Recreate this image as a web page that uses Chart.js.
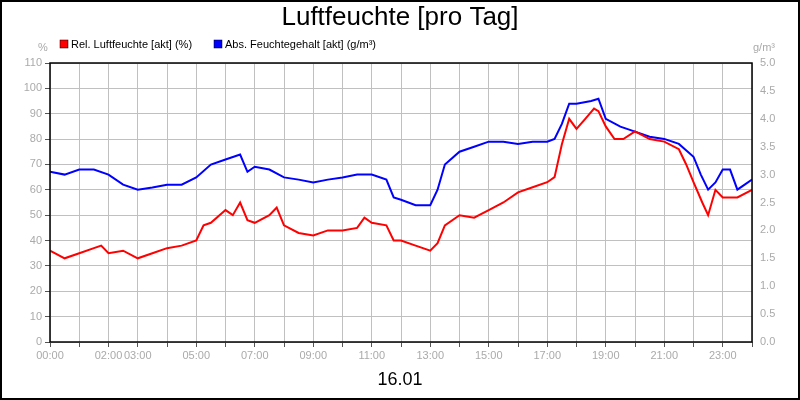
<!DOCTYPE html>
<html><head><meta charset="utf-8">
<script src="https://cdn.jsdelivr.net/npm/chart.js@4"></script>
<style>html,body{margin:0;padding:0;background:#fff}#w{width:800px;height:400px}</style>
</head><body><div id="w"><canvas id="c"></canvas></div>
<script>
const relHours = [0,0.5,1,1.5,1.75,2,2.5,3,3.5,4,4.5,5,5.25,5.5,6,6.25,6.5,6.75,7,7.5,7.75,8,8.5,9,9.5,10,10.5,10.75,11,11.5,11.75,12,12.5,13,13.25,13.5,14,14.5,15,15.5,16,16.5,17,17.25,17.5,17.75,18,18.3,18.6,18.75,19,19.3,19.6,20,20.5,21,21.5,21.75,22,22.3,22.5,22.75,23,23.5,24];
const relValues = [36,33,35,37,38,35,36,33,35,37,38,40,46,47,52,50,55,48,47,50,53,46,43,42,44,44,45,49,47,46,40,40,38,36,39,46,50,49,52,55,59,61,63,65,78,88,84,88,92,91,85,80,80,83,80,79,76,70,63,55,50,60,57,57,60];
const absHours = [0,0.5,1,1.5,2,2.5,3,3.5,4,4.5,5,5.5,6,6.5,6.75,7,7.5,8,8.5,9,9.5,10,10.5,11,11.5,11.75,12,12.5,13,13.25,13.5,14,14.5,15,15.5,16,16.5,17,17.25,17.5,17.75,18,18.5,18.75,19,19.5,20,20.5,21,21.5,22,22.25,22.5,22.75,23,23.25,23.5,23.75,24];
const absValues = [3.05,3.0,3.09,3.09,3.0,2.82,2.73,2.77,2.82,2.82,2.95,3.18,3.27,3.36,3.05,3.14,3.09,2.95,2.91,2.86,2.91,2.95,3.0,3.0,2.91,2.59,2.55,2.45,2.45,2.73,3.18,3.41,3.5,3.59,3.59,3.55,3.59,3.59,3.64,3.91,4.27,4.27,4.32,4.36,4.0,3.86,3.77,3.68,3.64,3.55,3.32,3.0,2.73,2.86,3.09,3.09,2.73,2.82,2.91];
const xLabelHours = [0,2,3,5,7,9,11,13,15,17,19,21,23];
const seriesNames = ['Rel. Luftfeuchte [akt] (%)','Abs. Feuchtegehalt [akt] (g/m³)'];
const titleText = 'Luftfeuchte [pro Tag]';
const dateText = '16.01';

const pts = (h,v)=>h.map((x,i)=>({x,y:v[i]}));
const F = 'Arial, "Liberation Sans", sans-serif';
const deco = {
  id:'deco',
  afterDraw(ch){
    const c=ch.ctx, a=ch.chartArea;
    c.save();
    c.strokeStyle='#000';c.lineWidth=1.5;
    c.strokeRect(a.left,a.top,a.right-a.left,a.bottom-a.top);
    c.lineWidth=2;c.strokeRect(1,1,798,398);
    c.fillStyle='#000';c.textAlign='center';c.textBaseline='middle';
    c.font='26px '+F;c.fillText(titleText,400,18);
    c.font='18px '+F;c.fillText(dateText,400,380);
    c.font='11px '+F;c.fillStyle='#aaa';
    c.fillText('%',43,48);c.fillText('g/m³',764,48);
    const items=[[60,'#ff0000',seriesNames[0]],[214,'#0000ff',seriesNames[1]]];
    items.forEach(([x,col,t])=>{
      c.fillStyle=col;c.fillRect(x,40,8,8);c.strokeStyle='#000';c.lineWidth=0.5;c.strokeRect(x,40,8,8);
      c.fillStyle='#000';c.textAlign='left';c.fillText(t,x+11,44.5);
    });
    c.restore();
  }
};
new Chart(document.getElementById('c'),{
  type:'line',
  data:{datasets:[
    {label:seriesNames[0],data:pts(relHours,relValues),borderColor:'#ff0000',borderWidth:2,pointRadius:0,tension:0,yAxisID:'y'},
    {label:seriesNames[1],data:pts(absHours,absValues),borderColor:'#0000ff',borderWidth:2,pointRadius:0,tension:0,yAxisID:'y2'}
  ]},
  options:{
    responsive:true,maintainAspectRatio:false,animation:false,
    layout:{padding:{top:63,left:0,right:0,bottom:0}},
    plugins:{legend:{display:false},title:{display:false},tooltip:{enabled:false}},
    scales:{
      x:{type:'linear',min:0,max:24,
        afterBuildTicks(s){s.ticks=[];for(let h=0;h<=24;h++)s.ticks.push({value:h});},
        afterFit(s){s.height=58;},
        grid:{color:'#c0c0c0',tickLength:5,tickColor:'#555'},border:{display:false},
        ticks:{autoSkip:false,maxRotation:0,color:'#aaa',font:{size:11,family:F},padding:2,
          callback:v=>xLabelHours.includes(v)?String(v).padStart(2,'0')+':00':''}},
      y:{position:'left',min:0,max:110,afterFit(s){s.width=50;},
        grid:{color:'#c0c0c0',tickLength:5,tickColor:'#555'},border:{display:false},
        ticks:{stepSize:10,color:'#aaa',font:{size:11,family:F},padding:3}},
      y2:{position:'right',min:0,max:5,afterFit(s){s.width=48;},
        grid:{display:false,tickLength:5,drawOnChartArea:false},border:{display:false},
        ticks:{stepSize:0.5,color:'#aaa',font:{size:11,family:F},padding:3,callback:v=>v.toFixed(1)}}
    }
  },
  plugins:[deco]
});
</script></body></html>
